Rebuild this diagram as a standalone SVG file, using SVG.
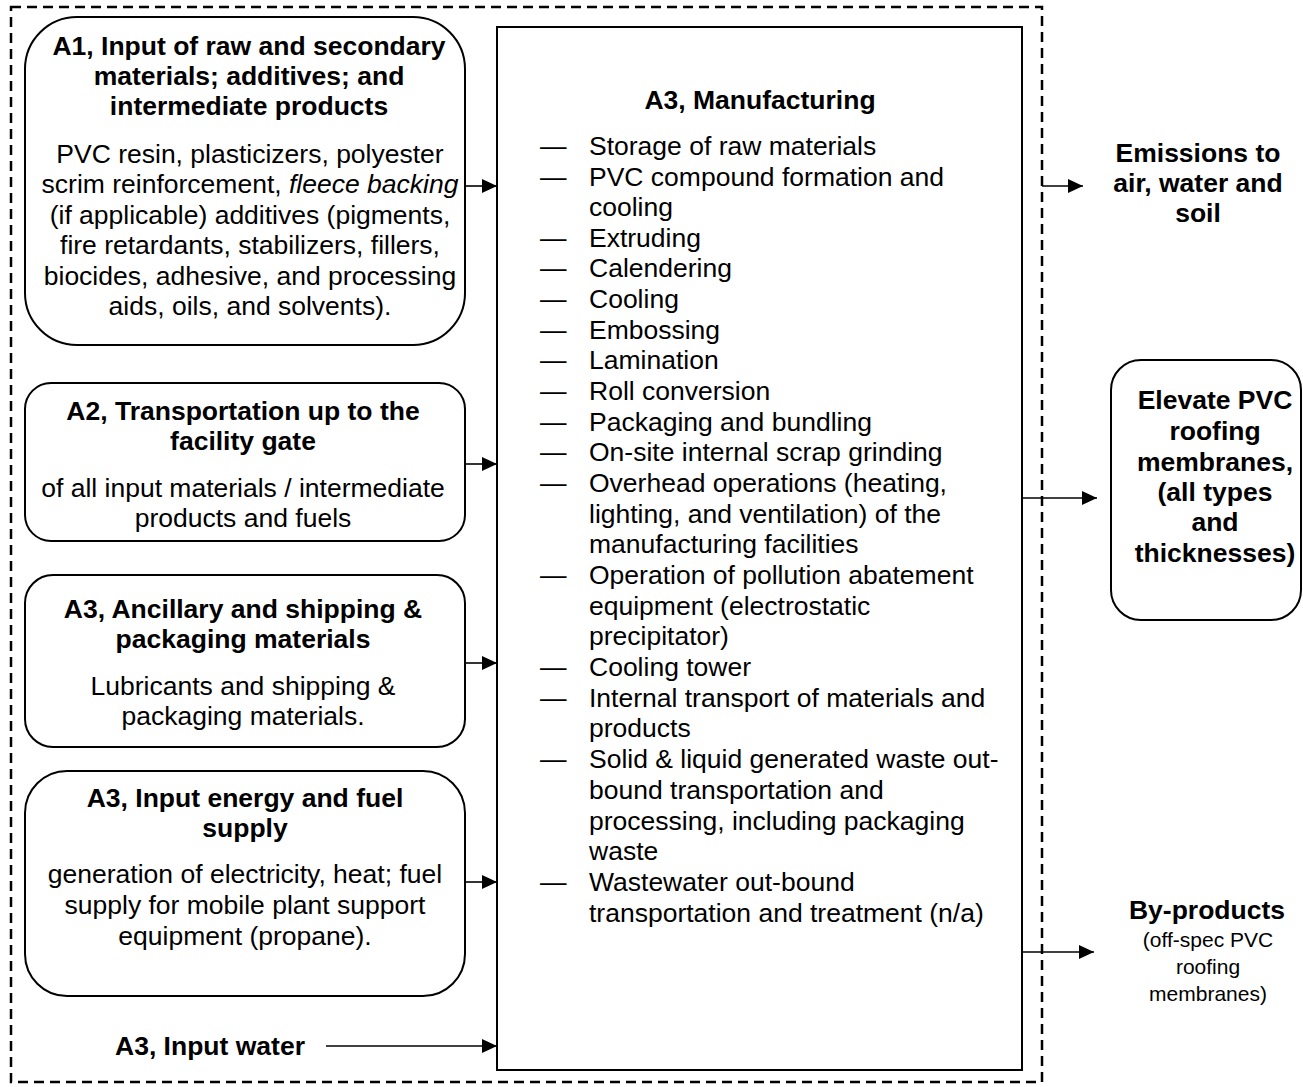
<svg xmlns="http://www.w3.org/2000/svg" width="1303" height="1087" viewBox="0 0 1303 1087">
<style>
text{font-family:"Liberation Sans",Arial,sans-serif;font-size:26.5px;fill:#000}
.b{font-weight:bold}
.c{text-anchor:middle}
.s{font-size:21px}
.box{fill:#fff;stroke:#000;stroke-width:2}
.conn{stroke:#000;stroke-width:1.6;fill:none}
</style>
<defs>
<marker id="ah" markerUnits="userSpaceOnUse" markerWidth="16" markerHeight="14" refX="15" refY="7" orient="auto">
<path d="M0,0 L15,7 L0,14 Z" fill="#000"/>
</marker>
</defs>
<rect width="1303" height="1087" fill="#fff"/>
<rect id="boundary" x="11" y="7" width="1031" height="1075" fill="none" stroke="#000" stroke-width="2.5" stroke-dasharray="10,6"/>

<g id="a1">
<rect class="box" x="25" y="17" width="440" height="328" rx="52"/>
<text class="b c" x="249"><tspan x="249" y="55">A1, Input of raw and secondary</tspan><tspan x="249" y="85">materials; additives; and</tspan><tspan x="249" y="115">intermediate products</tspan></text>
<text class="c" x="250"><tspan x="250" y="163">PVC resin, plasticizers, polyester</tspan><tspan x="250" y="193">scrim reinforcement, <tspan font-style="italic">fleece backing</tspan></tspan><tspan x="250" y="224">(if applicable) additives (pigments,</tspan><tspan x="250" y="254">fire retardants, stabilizers, fillers,</tspan><tspan x="250" y="285">biocides, adhesive, and processing</tspan><tspan x="250" y="315">aids, oils, and solvents).</tspan></text>
</g>

<g id="a2">
<rect class="box" x="25" y="383" width="440" height="158" rx="26"/>
<text class="b c"><tspan x="243" y="420">A2, Transportation up to the</tspan><tspan x="243" y="450">facility gate</tspan></text>
<text class="c"><tspan x="243" y="497">of all input materials / intermediate</tspan><tspan x="243" y="527">products and fuels</tspan></text>
</g>

<g id="a3-ancillary">
<rect class="box" x="25" y="575" width="440" height="172" rx="28"/>
<text class="b c"><tspan x="243" y="618">A3, Ancillary and shipping &amp;</tspan><tspan x="243" y="648">packaging materials</tspan></text>
<text class="c"><tspan x="243" y="695">Lubricants and shipping &amp;</tspan><tspan x="243" y="725">packaging materials.</tspan></text>
</g>

<g id="a3-energy">
<rect class="box" x="25" y="771" width="440" height="225" rx="42"/>
<text class="b c"><tspan x="245" y="807">A3, Input energy and fuel</tspan><tspan x="245" y="837">supply</tspan></text>
<text class="c"><tspan x="245" y="883">generation of electricity, heat; fuel</tspan><tspan x="245" y="914">supply for mobile plant support</tspan><tspan x="245" y="945">equipment (propane).</tspan></text>
</g>

<g id="a3-water">
<text class="b c" x="210" y="1055">A3, Input water</text>
</g>

<g id="a3-manufacturing">
<rect class="box" x="497" y="27" width="525" height="1043"/>
<text class="b c" x="760" y="109">A3, Manufacturing</text>
<g>
<text x="540" y="155">—</text><text x="589" y="155">Storage of raw materials</text>
<text x="540" y="186">—</text><text x="589" y="186">PVC compound formation and</text>
<text x="589" y="216">cooling</text>
<text x="540" y="247">—</text><text x="589" y="247">Extruding</text>
<text x="540" y="277">—</text><text x="589" y="277">Calendering</text>
<text x="540" y="308">—</text><text x="589" y="308">Cooling</text>
<text x="540" y="339">—</text><text x="589" y="339">Embossing</text>
<text x="540" y="369">—</text><text x="589" y="369">Lamination</text>
<text x="540" y="400">—</text><text x="589" y="400">Roll conversion</text>
<text x="540" y="431">—</text><text x="589" y="431">Packaging and bundling</text>
<text x="540" y="461">—</text><text x="589" y="461">On-site internal scrap grinding</text>
<text x="540" y="492">—</text><text x="589" y="492">Overhead operations (heating,</text>
<text x="589" y="523">lighting, and ventilation) of the</text>
<text x="589" y="553">manufacturing facilities</text>
<text x="540" y="584">—</text><text x="589" y="584">Operation of pollution abatement</text>
<text x="589" y="615">equipment (electrostatic</text>
<text x="589" y="645">precipitator)</text>
<text x="540" y="676">—</text><text x="589" y="676">Cooling tower</text>
<text x="540" y="707">—</text><text x="589" y="707">Internal transport of materials and</text>
<text x="589" y="737">products</text>
<text x="540" y="768">—</text><text x="589" y="768">Solid &amp; liquid generated waste out-</text>
<text x="589" y="799">bound transportation and</text>
<text x="589" y="830">processing, including packaging</text>
<text x="589" y="860">waste</text>
<text x="540" y="891">—</text><text x="589" y="891">Wastewater out-bound</text>
<text x="589" y="922">transportation and treatment (n/a)</text>
</g>
</g>

<g id="emissions">
<text class="b c"><tspan x="1198" y="162">Emissions to</tspan><tspan x="1198" y="192">air, water and</tspan><tspan x="1198" y="222">soil</tspan></text>
</g>

<g id="elevate">
<rect class="box" x="1111" y="360" width="190" height="260" rx="30"/>
<text class="b c"><tspan x="1215" y="409">Elevate PVC</tspan><tspan x="1215" y="440">roofing</tspan><tspan x="1215" y="471">membranes,</tspan><tspan x="1215" y="501">(all types</tspan><tspan x="1215" y="531">and</tspan><tspan x="1215" y="562">thicknesses)</tspan></text>
</g>

<g id="byproducts">
<text class="b c" x="1207" y="919">By-products</text>
<text class="s c"><tspan x="1208" y="947">(off-spec PVC</tspan><tspan x="1208" y="974">roofing</tspan><tspan x="1208" y="1001">membranes)</tspan></text>
</g>

<g id="connectors">
<line class="conn" x1="465" y1="186" x2="497" y2="186" marker-end="url(#ah)"/>
<line class="conn" x1="465" y1="464" x2="497" y2="464" marker-end="url(#ah)"/>
<line class="conn" x1="465" y1="663" x2="497" y2="663" marker-end="url(#ah)"/>
<line class="conn" x1="465" y1="882" x2="497" y2="882" marker-end="url(#ah)"/>
<line class="conn" x1="326" y1="1046" x2="497" y2="1046" marker-end="url(#ah)"/>
<line class="conn" x1="1042" y1="186" x2="1083" y2="186" stroke-width="2" marker-end="url(#ah)"/>
<line class="conn" x1="1022" y1="498" x2="1097" y2="498" marker-end="url(#ah)"/>
<line class="conn" x1="1022" y1="952" x2="1094" y2="952" marker-end="url(#ah)"/>
</g>
</svg>
